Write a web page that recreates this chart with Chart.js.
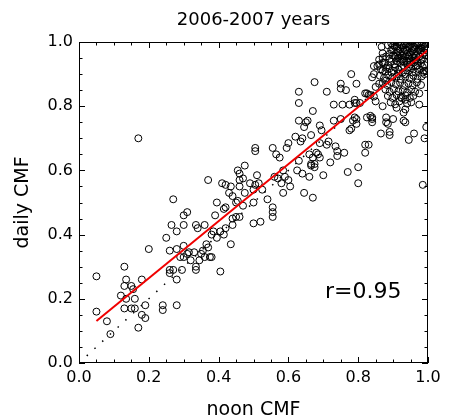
<!DOCTYPE html>
<html>
<head>
<meta charset="utf-8">
<script src="https://cdn.jsdelivr.net/npm/chart.js@4.4.1/dist/chart.umd.min.js"></script>
<style>
  html, body { margin: 0; padding: 0; background: #fff; }
</style>
</head>
<body>
<canvas id="chart" width="449" height="420"></canvas>
<script>
// ==============================
// DATA (noon CMF, daily CMF)
// ==============================
const TITLE = "2006-2007 years";
const X_LABEL = "noon CMF";
const Y_LABEL = "daily CMF";
const R_TEXT = "r=0.95";

const TICKS = [0.0, 0.2, 0.4, 0.6, 0.8, 1.0];

// scattered points, low and middle range
const lowPoints = [
  [0.05,0.27],[0.05,0.16],[0.08,0.13],[0.09,0.09],[0.13,0.30],[0.135,0.26],[0.13,0.24],[0.12,0.21],
  [0.15,0.24],[0.155,0.23],[0.135,0.20],[0.13,0.17],[0.15,0.17],[0.16,0.17],[0.16,0.20],[0.18,0.26],
  [0.19,0.18],[0.18,0.15],[0.19,0.14],[0.17,0.11],[0.20,0.355],[0.24,0.18],[0.24,0.165],[0.28,0.18],
  [0.27,0.51],[0.265,0.43],[0.28,0.41],[0.25,0.39],[0.26,0.35],[0.26,0.29],[0.26,0.28],[0.27,0.29],
  [0.28,0.26],[0.28,0.355],[0.29,0.33],[0.295,0.29],[0.30,0.365],[0.31,0.34],[0.315,0.345],[0.30,0.46],
  [0.31,0.47],[0.30,0.43],[0.32,0.32],[0.335,0.30],[0.335,0.29],[0.335,0.43],[0.34,0.42],[0.35,0.34],
  [0.36,0.43],[0.365,0.37],[0.37,0.36],[0.36,0.33],[0.375,0.33],[0.38,0.33],[0.385,0.41],[0.39,0.46],
  [0.395,0.50],[0.395,0.39],[0.405,0.285],[0.42,0.42],[0.415,0.40],[0.415,0.48],[0.42,0.485],[0.435,0.37],
  [0.44,0.43],[0.44,0.45],[0.45,0.455],[0.46,0.455],[0.45,0.50],[0.47,0.49],[0.43,0.53],[0.44,0.52],
  [0.17,0.70],[0.37,0.57],[0.42,0.555],[0.435,0.55],[0.46,0.55],[0.455,0.60],[0.46,0.59],[0.47,0.575],
  [0.475,0.615],[0.49,0.56],[0.38,0.40],[0.405,0.41],[0.41,0.56],[0.46,0.57],[0.475,0.53],[0.51,0.585],
  [0.515,0.56],[0.505,0.66],[0.505,0.67],[0.54,0.51],[0.565,0.65],[0.57,0.575],[0.555,0.47],[0.555,0.455],
  [0.555,0.485],[0.50,0.435],[0.52,0.44],[0.50,0.50],[0.50,0.54],[0.505,0.555],[0.455,0.505],[0.355,0.35],
  [0.33,0.345],[0.30,0.33],[0.345,0.32]
];

const midPoints = [
  [0.78,0.90],[0.675,0.875],[0.63,0.845],[0.63,0.81],[0.71,0.845],[0.75,0.87],[0.75,0.855],[0.765,0.85],
  [0.795,0.87],[0.73,0.805],[0.755,0.805],[0.775,0.805],[0.79,0.82],[0.79,0.81],[0.825,0.84],[0.67,0.785],
  [0.63,0.755],[0.65,0.75],[0.655,0.755],[0.645,0.735],[0.69,0.74],[0.695,0.725],[0.73,0.755],[0.75,0.76],
  [0.775,0.725],[0.78,0.73],[0.79,0.765],[0.795,0.76],[0.795,0.745],[0.825,0.765],[0.84,0.765],[0.84,0.76],
  [0.62,0.705],[0.64,0.70],[0.635,0.69],[0.60,0.685],[0.595,0.67],[0.555,0.67],[0.575,0.64],[0.665,0.71],
  [0.715,0.69],[0.71,0.68],[0.69,0.685],[0.735,0.675],[0.74,0.66],[0.74,0.645],[0.76,0.655],[0.82,0.68],
  [0.82,0.655],[0.66,0.65],[0.67,0.64],[0.685,0.65],[0.69,0.64],[0.665,0.615],[0.675,0.61],[0.72,0.625],
  [0.63,0.63],[0.585,0.60],[0.56,0.58],[0.59,0.58],[0.60,0.57],[0.58,0.56],[0.605,0.55],[0.625,0.60],
  [0.64,0.59],[0.66,0.58],[0.70,0.585],[0.77,0.595],[0.80,0.61],[0.80,0.56],[0.585,0.53],[0.645,0.53],
  [0.67,0.515],[0.525,0.54],[0.68,0.655],[0.665,0.62],[0.675,0.62],
  [0.87,0.935],[0.855,0.925],[0.845,0.90],[0.86,0.87],[0.845,0.83],[0.85,0.815],[0.87,0.80],[0.88,0.765],
  [0.91,0.795],[0.93,0.78],[0.93,0.755],[0.935,0.75],[0.90,0.76],[0.885,0.745],[0.89,0.72],[0.865,0.715],
  [0.945,0.695],[0.96,0.715],[0.995,0.735],[0.975,0.805],[0.975,0.84],[0.985,0.905],[0.985,0.555],[0.925,0.825],
  [0.845,0.925],[0.84,0.89],[0.82,0.84],[0.83,0.835],[0.795,0.81],[0.785,0.755],[0.835,0.77],[0.84,0.75],
  [0.88,0.75],[0.935,0.79],[0.935,0.82],[0.99,0.90],[0.89,0.71],[0.99,0.70],[0.83,0.68]
];

// dense cluster, top right
const clusterPoints = [
  [0.885,0.99],[0.895,0.995],[0.905,0.985],[0.915,0.998],[0.925,0.99],[0.935,0.995],[0.945,0.985],[0.955,0.997],
  [0.965,0.99],[0.975,0.996],[0.985,0.988],[0.995,0.994],
  [0.90,0.975],[0.91,0.968],[0.92,0.978],[0.93,0.97],[0.94,0.975],[0.95,0.968],[0.96,0.978],[0.97,0.97],
  [0.98,0.975],[0.99,0.967],[0.912,0.958],[0.948,0.96],
  [0.88,0.955],[0.89,0.948],[0.90,0.958],[0.915,0.95],[0.925,0.945],[0.935,0.955],[0.945,0.948],[0.955,0.952],
  [0.965,0.944],[0.975,0.955],[0.985,0.947],[0.995,0.958],
  [0.875,0.935],[0.885,0.928],[0.895,0.938],[0.905,0.93],[0.92,0.935],[0.93,0.926],[0.94,0.938],[0.95,0.93],
  [0.96,0.936],[0.97,0.927],[0.98,0.934],[0.99,0.928],
  [0.865,0.915],[0.878,0.908],[0.89,0.918],[0.902,0.91],[0.915,0.915],[0.928,0.905],[0.94,0.912],[0.952,0.918],
  [0.963,0.907],[0.975,0.915],[0.988,0.91],
  [0.862,0.895],[0.874,0.888],[0.886,0.896],[0.898,0.89],[0.91,0.893],[0.922,0.885],[0.935,0.892],[0.947,0.887],
  [0.958,0.895],[0.97,0.885],[0.982,0.893],
  [0.87,0.872],[0.883,0.866],[0.895,0.875],[0.908,0.868],[0.92,0.873],[0.932,0.864],[0.944,0.871],[0.956,0.865],
  [0.968,0.874],[0.98,0.866],
  [0.878,0.852],[0.89,0.845],[0.902,0.853],[0.915,0.846],[0.928,0.85],[0.94,0.843],[0.952,0.852],[0.963,0.845],
  [0.885,0.832],[0.898,0.826],[0.91,0.835],[0.922,0.828],[0.935,0.834],[0.948,0.826],[0.958,0.832],
  [0.893,0.812],[0.906,0.806],[0.918,0.815],[0.94,0.808],[0.952,0.812],
  [0.905,0.999],[0.93,0.982],[0.955,0.983],[0.98,0.982],[0.96,0.962],[0.94,0.962],[0.92,0.962],[0.97,0.94],
  [0.95,0.94],[0.93,0.94],[0.91,0.94],[0.89,0.963],[0.965,0.925],[0.945,0.922],[0.925,0.92],[0.905,0.922],
  [0.985,0.922],[0.995,0.975],[0.995,0.91],[0.955,0.905],[0.935,0.9],[0.915,0.9],[0.895,0.905],[0.88,0.92],
  [0.87,0.95],[0.86,0.93],
  [0.867,0.985],[0.87,0.965],[0.86,0.945],[0.87,0.91],[0.88,0.88],[0.85,0.86],[0.835,0.835],[0.805,0.81],
  [0.90,0.99],[0.91,0.985],[0.92,0.993],[0.93,0.988],[0.94,0.996],[0.95,0.99],[0.96,0.985],[0.97,0.993],
  [0.98,0.99],[0.99,0.985],[0.895,0.975],[0.915,0.972],[0.935,0.975],[0.955,0.972],[0.975,0.98],[0.99,0.98],
  [0.905,0.955],[0.925,0.958],[0.945,0.955],[0.965,0.958],[0.985,0.96],[0.92,0.948],[0.96,0.95],[0.98,0.945],
  [0.94,0.93]
];

// linear fit (red) and 1:1 line (dotted)
const fitX = [0.05, 1.0];
const fitY = [0.131, 0.975];
const diagX = [0.0, 1.0];
const diagY = [0.0, 1.0];

// ==============================
// HELPERS
// ==============================
const FONT = "'DejaVu Sans', sans-serif";
const toXY = (arr) => arr.map(p => ({ x: p[0], y: p[1] }));
const pairXY = (xs, ys) => xs.map((x, i) => ({ x, y: ys[i] }));

// frame with inward ticks on all four sides + texts
const framePlugin = {
  id: "framePlugin",
  afterDatasetsDraw(chart){
    const { ctx, chartArea: a, scales } = chart;
    const xs = scales.x, ys = scales.y;
    ctx.save();
    ctx.strokeStyle = "#000";
    ctx.lineWidth = 1;
    ctx.strokeRect(a.left + 0.5, a.top + 0.5, a.right - a.left - 1, a.bottom - a.top - 1);

    ctx.beginPath();
    for (let i = 0; i <= 20; i++) {
      const v = i * 0.05;
      const len = i % 4 === 0 ? 6 : 3.5;
      const px = Math.round(xs.getPixelForValue(v)) + 0.5;
      const py = Math.round(ys.getPixelForValue(v)) + 0.5;
      ctx.moveTo(px, a.bottom); ctx.lineTo(px, a.bottom - len);
      ctx.moveTo(px, a.top); ctx.lineTo(px, a.top + len);
      ctx.moveTo(a.left, py); ctx.lineTo(a.left + len, py);
      ctx.moveTo(a.right, py); ctx.lineTo(a.right - len, py);
    }
    ctx.stroke();
    ctx.restore();
  },
  afterDraw(chart){
    const { ctx, chartArea: a, scales } = chart;
    const cx = (a.left + a.right) / 2;
    ctx.save();
    ctx.fillStyle = "#000";
    ctx.textAlign = "center";
    ctx.textBaseline = "alphabetic";

    ctx.font = `18px ${FONT}`;
    ctx.fillText(TITLE, cx, 25);

    ctx.font = `19px ${FONT}`;
    ctx.fillText(X_LABEL, cx, 415);

    ctx.save();
    ctx.translate(28, (a.top + a.bottom) / 2);
    ctx.rotate(-Math.PI / 2);
    ctx.fillText(Y_LABEL, 0, 0);
    ctx.restore();

    ctx.font = `22px ${FONT}`;
    ctx.textAlign = "left";
    ctx.fillText(R_TEXT, scales.x.getPixelForValue(0.705), scales.y.getPixelForValue(0.203));
    ctx.restore();
  }
};

// ==============================
// CHART
// ==============================
new Chart(document.getElementById("chart"), {
  type: "scatter",
  data: {
    datasets: [
      {
        label: "fit",
        data: pairXY(fitX, fitY),
        showLine: true,
        borderColor: "#f00000",
        borderWidth: 2,
        pointRadius: 0,
        order: 0
      },
      {
        label: "1:1",
        data: pairXY(diagX, diagY),
        showLine: true,
        borderColor: "#000",
        borderWidth: 1.5,
        borderDash: [1.5, 9],
        pointRadius: 0,
        order: 1
      },
      {
        label: "CMF",
        data: toXY([...lowPoints, ...midPoints, ...clusterPoints]),
        pointStyle: "circle",
        pointRadius: 3.5,
        borderWidth: 1,
        borderColor: "#000",
        backgroundColor: "rgba(0,0,0,0)",
        clip: 0,
        order: 2
      }
    ]
  },
  options: {
    responsive: false,
    animation: false,
    events: [],
    layout: { padding: { top: 42, right: 21, bottom: 0, left: 0 } },
    plugins: {
      legend: { display: false },
      tooltip: { enabled: false },
      title: { display: false }
    },
    scales: {
      x: {
        type: "linear",
        min: 0, max: 1,
        afterFit: (s) => { s.height = 57; },
        afterBuildTicks: (s) => { s.ticks = TICKS.map(v => ({ value: v })); },
        grid: { display: false, drawTicks: false },
        border: { display: false },
        ticks: {
          padding: 5,
          color: "#000",
          font: { family: FONT, size: 16 },
          callback: (v) => Number(v).toFixed(1)
        }
      },
      y: {
        type: "linear",
        min: 0, max: 1,
        afterFit: (s) => { s.width = 79; },
        afterBuildTicks: (s) => { s.ticks = TICKS.map(v => ({ value: v })); },
        grid: { display: false, drawTicks: false },
        border: { display: false },
        ticks: {
          padding: 6,
          color: "#000",
          font: { family: FONT, size: 16 },
          callback: (v) => Number(v).toFixed(1)
        }
      }
    }
  },
  plugins: [framePlugin]
});
</script>
</body>
</html>
